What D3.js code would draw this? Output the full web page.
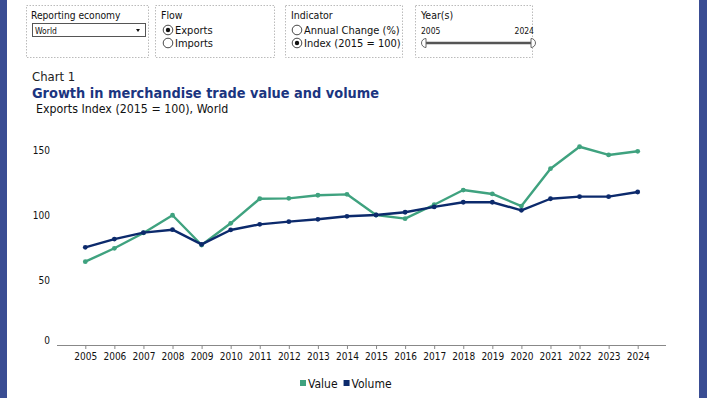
<!DOCTYPE html>
<html><head><meta charset="utf-8">
<script src="https://cdn.jsdelivr.net/npm/d3@7/dist/d3.min.js"></script>
<style>
html,body{margin:0;padding:0;background:#3a4d93;}
svg{display:block;}
text{font-family:"DejaVu Sans Condensed","DejaVu Sans",sans-serif;}
</style></head>
<body>
<svg id="c" width="707" height="398"></svg>
<script>
const years = ["2005","2006","2007","2008","2009","2010","2011","2012","2013","2014","2015","2016","2017","2018","2019","2020","2021","2022","2023","2024"];
const valueSeries = [64.1,74.4,86.2,99.8,76.9,93.6,112.5,112.8,115.2,115.9,100,97.2,107.9,119.2,116.2,106.9,135.6,152.5,146.2,149.0];
const volumeSeries = [75.1,81.5,86.4,88.7,77.4,88.5,92.8,94.9,96.7,99.0,100,102.1,106.2,109.8,109.8,103.6,112.5,114.1,114.1,117.7];
const yTicks = [0,50,100,150];
const seriesNames = ["Value","Volume"];
const colors = ["#3fa27f","#0c2a6c"];

const svg = d3.select("#c");
svg.append("rect").attr("x",7).attr("y",0).attr("width",692).attr("height",398).attr("fill","#fff");

// ---- controls ----
const boxes = [[26,156],[155,282],[285,410],[415,540]];
boxes.forEach(b=>{
  svg.append("rect").attr("x",b[0]+0.5).attr("y",5.5).attr("width",b[1]-b[0]-8).attr("height",52)
    .attr("fill","none").attr("stroke","#bbb").attr("stroke-dasharray","1.5,1.5");
});
const lbl = (x,y,t,s)=>svg.append("text").attr("x",x).attr("y",y).attr("font-size",s||11).attr("fill","#111").text(t);
lbl(31,19,"Reporting economy",10.2);
svg.append("rect").attr("x",32.5).attr("y",23.5).attr("width",113).attr("height",13).attr("fill","#fff").attr("stroke","#555");
lbl(35,33.5,"World",8.5);
svg.append("path").attr("d","M136,29 l4,0 l-2,3 z").attr("fill","#111");

lbl(161,19,"Flow",10.5);
function radio(x,y,on,t){
  svg.append("circle").attr("cx",x).attr("cy",y).attr("r",4.8).attr("fill","#fff").attr("stroke","#333").attr("stroke-width",0.9);
  if(on) svg.append("circle").attr("cx",x).attr("cy",y).attr("r",2.2).attr("fill","#111");
  lbl(x+7,y+4,t);
}
radio(168,30,true,"Exports");
radio(168,43,false,"Imports");
lbl(291,19,"Indicator",10.5);
radio(297,30,false,"Annual Change (%)");
radio(297,43,true,"Index (2015 = 100)");
lbl(421,19,"Year(s)",10.5);
lbl(421,34,"2005",8.5);
svg.append("text").attr("x",534).attr("y",34).attr("font-size",8.5).attr("text-anchor","end").attr("fill","#111").text("2024");
svg.append("line").attr("x1",426).attr("x2",531).attr("y1",43).attr("y2",43).attr("stroke","#555").attr("stroke-width",2.5);
svg.append("path").attr("d","M426,38.5 a4.5,4.5 0 0 0 0,9 z").attr("fill","#fff").attr("stroke","#666");
svg.append("path").attr("d","M531,38.5 a4.5,4.5 0 0 1 0,9 z").attr("fill","#fff").attr("stroke","#666");

// ---- titles ----
lbl(32,81,"Chart 1",13).attr("fill","#222");
svg.append("text").attr("x",32).attr("y",98).attr("font-size",14.4).attr("font-weight","bold").attr("fill","#1b3580")
  .text("Growth in merchandise trade value and volume");
lbl(36,113,"Exports Index (2015 = 100), World",12.3);

// ---- chart ----
const x = d3.scalePoint().domain(years).range([85.3,637.7]);
const y = d3.scaleLinear().domain([0,150]).range([345,150]);

const xAxis = svg.append("g").attr("transform","translate(0,345)")
  .call(d3.axisBottom(x).tickSize(4).tickPadding(4));
xAxis.select(".domain").attr("d","M57,0.5H666").attr("stroke","#888");
xAxis.selectAll(".tick line").attr("stroke","#888");
xAxis.selectAll(".tick text").attr("font-size",10).attr("fill","#111").attr("font-family","DejaVu Sans Condensed, DejaVu Sans, sans-serif");

const yAxis = svg.append("g").attr("transform","translate(50,0)")
  .call(d3.axisLeft(y).tickValues(yTicks).tickSize(0).tickPadding(0));
yAxis.select(".domain").remove();
yAxis.selectAll(".tick text").attr("font-size",10).attr("fill","#111").attr("font-family","DejaVu Sans Condensed, DejaVu Sans, sans-serif")
  .attr("dy", d=> d===0 ? "-0.18em" : "0.32em");

[valueSeries, volumeSeries].forEach((s,i)=>{
  const line = d3.line().x((d,j)=>x(years[j])).y(d=>y(d));
  svg.append("path").datum(s).attr("d",line).attr("fill","none").attr("stroke",colors[i]).attr("stroke-width",2.4).attr("stroke-linejoin","round");
  svg.selectAll(null).data(s).enter().append("circle")
    .attr("cx",(d,j)=>x(years[j])).attr("cy",d=>y(d)).attr("r",2.4).attr("fill",colors[i]);
});

// ---- legend ----
const lg = svg.append("g");
let lx = 300;
seriesNames.forEach((n,i)=>{
  lg.append("rect").attr("x",lx).attr("y",380).attr("width",6).attr("height",6).attr("fill",colors[i]);
  const t = lg.append("text").attr("x",lx+8).attr("y",387.5).attr("font-size",12).attr("fill","#111").text(n);
  lx += 8 + t.node().getComputedTextLength() + 6;
});
</script>
</body></html>
